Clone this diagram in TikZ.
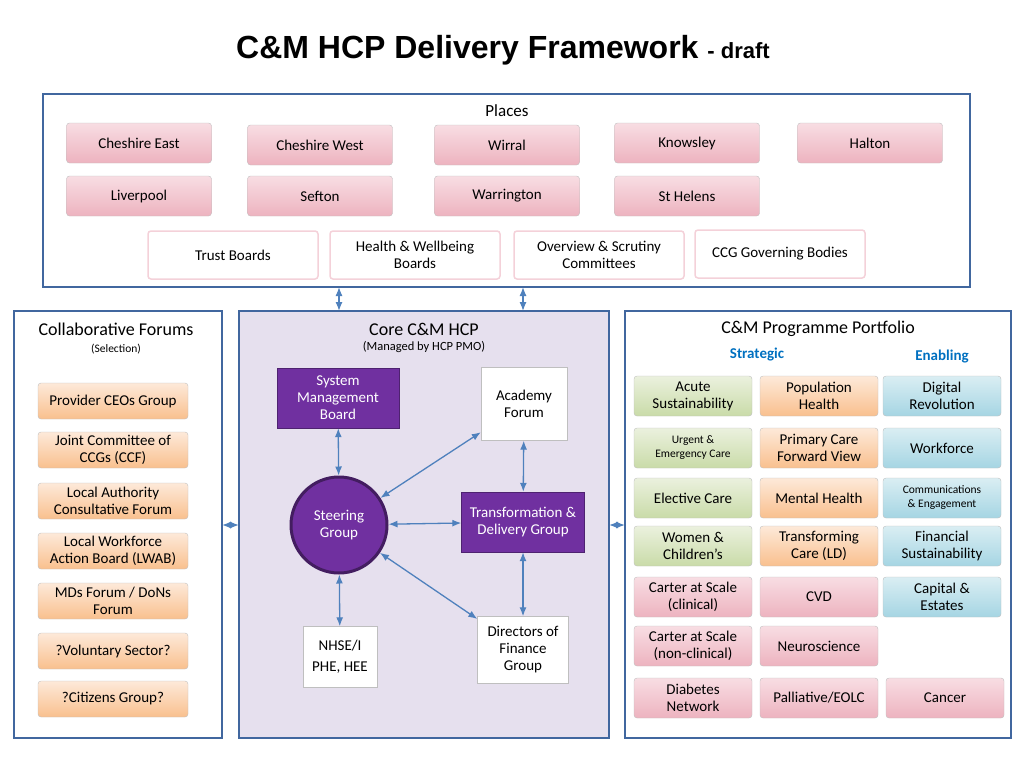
\documentclass[tikz,border=0pt]{standalone}
\usepackage{fontspec}
\setmainfont{Carlito}
\newfontfamily\titlefont{Liberation Sans}
\usetikzlibrary{positioning,arrows.meta,shapes.geometric}
\definecolor{framecol}{HTML}{41679F}
\definecolor{arrcol}{HTML}{4F81BD}
\definecolor{purpcol}{HTML}{7030A0}
\definecolor{lavcol}{HTML}{E6E0EE}
\definecolor{strategiccol}{HTML}{0070C0}
\definecolor{pinktop}{HTML}{F8DDE3}
\definecolor{pinkbot}{HTML}{EDB3BF}
\definecolor{greentop}{HTML}{EBF1DE}
\definecolor{greenbot}{HTML}{C9DBA8}
\definecolor{peachtop}{HTML}{FDE9D9}
\definecolor{peachbot}{HTML}{F9C08E}
\definecolor{bluetop}{HTML}{DAEEF3}
\definecolor{bluebot}{HTML}{A5D5E3}
\tikzset{
  txt/.style={font=\fontsize{15}{17}\selectfont, align=center},
  small/.style={font=\fontsize{11.5}{14}\selectfont, align=center},
  tile/.style={txt, draw=gray!50, rounded corners=3pt, minimum width=#1, minimum height=40pt, inner sep=1pt},
  tile/.default=145pt,
  frame/.style={draw=framecol, line width=2pt},
  pinkbox/.style={tile=#1, top color=pinktop, bottom color=pinkbot},
  pinkbox/.default=145pt,
  orangebox/.style={tile=150pt, top color=peachtop, bottom color=peachbot, minimum height=36pt},
  greenbox/.style={tile=118pt, top color=greentop, bottom color=greenbot},
  peachbox/.style={tile=118pt, top color=peachtop, bottom color=peachbot},
  bluebox/.style={tile=118pt, top color=bluetop, bottom color=bluebot},
  ppbox/.style={tile=118pt, top color=pinktop, bottom color=pinkbot},
  whitebox/.style={txt, draw=pinkbot!60, line width=1.5pt, rounded corners=3pt, fill=white, minimum width=170pt, minimum height=48pt},
  corebox/.style={txt, draw=gray!50, fill=white, inner sep=2pt},
  purpbox/.style={txt, fill=purpcol, draw=purpcol!70!black, text=white, minimum width=122pt, minimum height=60pt},
  link/.style={{Latex[length=9pt,width=7pt]}-{Latex[length=9pt,width=7pt]}, draw=arrcol, line width=1.3pt},
}
\begin{document}
\begin{tikzpicture}[x=1pt, y=-1pt]
  \useasboundingbox (0,0) rectangle (1024,768);
  % title
  \node (title) at (503,50) {\titlefont\bfseries\fontsize{32}{36}\selectfont C\&M HCP Delivery Framework \fontsize{22}{26}\selectfont - draft};
  % places
  \draw[frame] (43,94) rectangle (970,287);
  \node[txt, font=\fontsize{17}{20}\selectfont] (places) at (507,111) {Places};
  \node[pinkbox] (cheast) at (139,143) {Cheshire East};
  \node[pinkbox] (chwest) at (320,145) {Cheshire West};
  \node[pinkbox] (wirral) at (507,145) {Wirral};
  \node[pinkbox] (knowsley) at (687,143) {Knowsley};
  \node[pinkbox] (halton) at (870,143) {Halton};
  \node[pinkbox] (liverpool) at (139,196) {Liverpool};
  \node[pinkbox] (sefton) at (320,196) {Sefton};
  \node[pinkbox] (warrington) at (507,196) {Warrington};
  \node[pinkbox] (sthelens) at (687,196) {St Helens};
  \node[whitebox] (trust) at (233,255) {Trust Boards};
  \node[whitebox] (hwb) at (415,255) {Health \& Wellbeing\\Boards};
  \node[whitebox] (osc) at (599,255) {Overview \& Scrutiny\\Committees};
  \node[whitebox] (ccg) at (780,254) {CCG Governing Bodies};
  % collaborative forums
  \draw[frame] (14,311) rectangle (222,738);
  \node[txt, font=\fontsize{18}{21}\selectfont] (collab) at (116,329) {Collaborative Forums};
  \node[small] at (116,349) {(Selection)};
  \node[orangebox] (ceos) at (113,401) {Provider CEOs Group};
  \node[orangebox] (joint) at (113,450) {Joint Committee of\\CCGs (CCF)};
  \node[orangebox] (la) at (113,501) {Local Authority\\Consultative Forum};
  \node[orangebox] (lwab) at (113,551) {Local Workforce\\Action Board (LWAB)};
  \node[orangebox] (mds) at (113,601) {MDs Forum / DoNs\\Forum};
  \node[orangebox] (vol) at (113,651) {?Voluntary Sector?};
  \node[orangebox] (cit) at (113,699) {?Citizens Group?};
  % core
  \draw[frame, fill=lavcol] (239,311) rectangle (609,738);
  \node[txt, font=\fontsize{18}{21}\selectfont] (core) at (424,329) {Core C\&M HCP};
  \node[small, font=\fontsize{12.5}{14}\selectfont] at (424,347) {(Managed by HCP PMO)};
  \node[purpbox] (smb) at (338,398) {System\\Management\\Board};
  \node[corebox, minimum width=86pt, minimum height=73pt] (academy) at (524,404) {Academy\\Forum};
  \node[circle, fill=purpcol, draw=purpcol!60!black, line width=3pt, minimum size=96pt, txt, text=white] (steer) at (339,525) {Steering\\Group};
  \node[purpbox, minimum width=123pt] (tdg) at (523,522) {Transformation \&\\Delivery Group};
  \node[corebox, minimum width=74pt, minimum height=61pt] (nhse) at (340,657) {NHSE/I\\[4pt]PHE, HEE};
  \node[corebox, minimum width=91pt, minimum height=67pt] (dof) at (523,650) {Directors of\\Finance\\Group};
  \draw[link] (smb) -- (steer);
  \draw[link] (steer) -- (academy);
  \draw[link] (steer) -- (tdg);
  \draw[link] (steer) -- (nhse);
  \draw[link] (steer) -- (dof);
  \draw[link] (academy) -- (tdg);
  \draw[link] (tdg) -- (dof);
  \coordinate (pl1) at (339,287); \coordinate (co1) at (339,311);
  \coordinate (pl2) at (523,287); \coordinate (co2) at (523,311);
  \coordinate (cl) at (222,525); \coordinate (cr) at (239,525);
  \coordinate (dl) at (609,525); \coordinate (dr) at (625,525);
  \draw[link] (pl1) -- (co1);
  \draw[link] (pl2) -- (co2);
  \draw[link] (cl) -- (cr);
  \draw[link] (dl) -- (dr);
  % portfolio
  \draw[frame] (625,311) rectangle (1011,738);
  \node[txt, font=\fontsize{18}{21}\selectfont] (port) at (818,329) {C\&M Programme Portfolio};
  \node[txt, text=strategiccol, font=\bfseries\fontsize{15}{17}\selectfont] at (757,355) {Strategic};
  \node[txt, text=strategiccol, font=\bfseries\fontsize{15}{17}\selectfont] at (942,357) {Enabling};
  \node[greenbox] (acute) at (693,396) {Acute\\Sustainability};
  \node[greenbox, small] (urgent) at (693,448) {Urgent \&\\Emergency Care};
  \node[greenbox] (elective) at (693,498) {Elective Care};
  \node[greenbox] (women) at (693,546) {Women \&\\Children’s};
  \node[ppbox] (carterc) at (693,597) {Carter at Scale\\(clinical)};
  \node[ppbox] (carternc) at (693,646) {Carter at Scale\\(non-clinical)};
  \node[ppbox] (diabetes) at (693,698) {Diabetes\\Network};
  \node[peachbox] (pophealth) at (819,396) {Population\\Health};
  \node[peachbox] (primary) at (819,448) {Primary Care\\Forward View};
  \node[peachbox] (mental) at (819,498) {Mental Health};
  \node[peachbox] (transcare) at (819,546) {Transforming\\Care (LD)};
  \node[ppbox] (cvd) at (819,597) {CVD};
  \node[ppbox] (neuro) at (819,646) {Neuroscience};
  \node[ppbox] (palliative) at (819,698) {Palliative/EOLC};
  \node[bluebox] (digital) at (942,396) {Digital\\Revolution};
  \node[bluebox] (workforce) at (942,448) {Workforce};
  \node[bluebox, small] (comms) at (942,498) {Communications\\\& Engagement};
  \node[bluebox] (finsus) at (942,546) {Financial\\Sustainability};
  \node[bluebox] (capital) at (942,597) {Capital \&\\Estates};
  \node[ppbox] (cancer) at (945,698) {Cancer};
\end{tikzpicture}
\end{document}
